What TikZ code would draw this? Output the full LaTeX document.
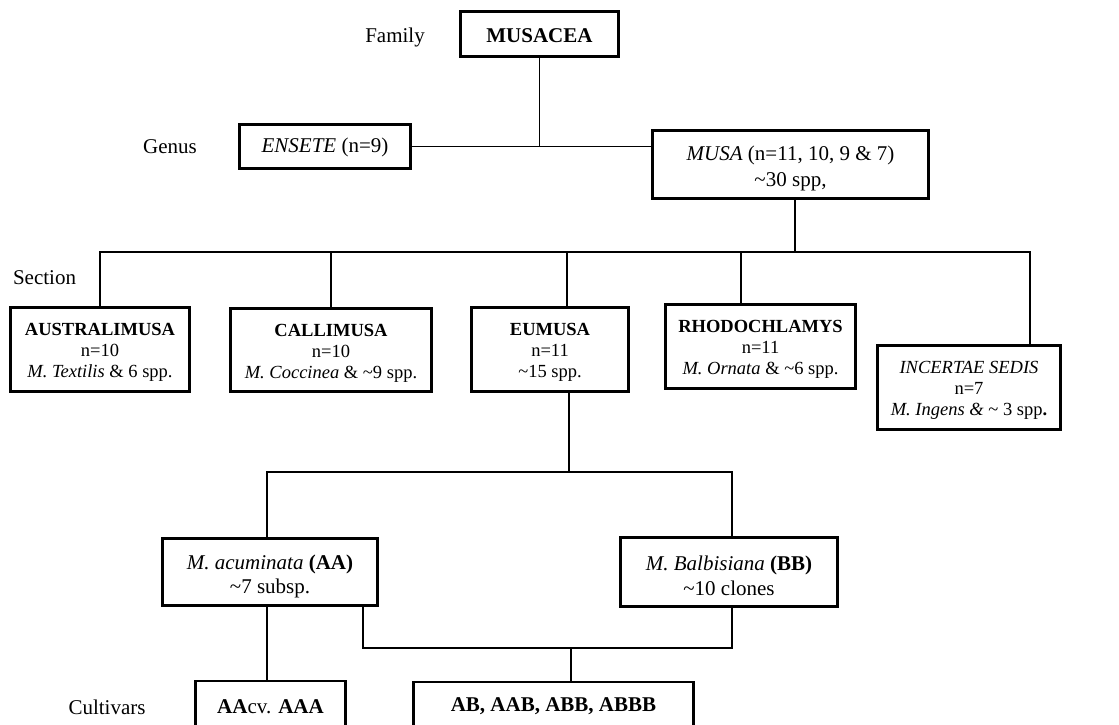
\documentclass[tikz,border=0pt]{standalone}
\usepackage{fontspec}
\setmainfont{Liberation Serif}
\begin{document}
\begin{tikzpicture}[x=1pt,y=-1pt,
  box/.style={draw, line width=2.6pt, rectangle, inner sep=0pt},
  txt/.style={inner sep=0pt, align=center, font=\fontsize{21}{25}\selectfont},
  sectxt/.style={txt, font=\fontsize{18.5}{21}\selectfont},
  conn/.style={line width=1.6pt},
  lbl/.style={inner sep=0pt, font=\fontsize{21}{25}\selectfont}]
\useasboundingbox (0,0) rectangle (1119,724);
\clip (0,0) rectangle (1119,724);
\fill[white] (0,0) rectangle (1119,724);

% level labels
\node[lbl] (family) at (395,37) {Family};
\node[lbl] (genus) at (170,147) {Genus};
\node[lbl] (section) at (44.5,278) {Section};
\node[lbl] (cultivars) at (107,707) {Cultivars};

% boxes
\node[box, minimum width=158pt, minimum height=45pt] (musacea) at (539.5,34) {};
\node[txt] (musaceaT) at ([yshift=-2pt]musacea.center) {\textbf{MUSACEA}};
\node[box, minimum width=171pt, minimum height=44pt] (ensete) at (325,146.5) {};
\node[txt] (enseteT) at ([yshift=-1pt]ensete.center) {\textit{ENSETE} (n=9)};
\node[box, minimum width=276pt, minimum height=68pt] (musa) at (790.5,164.5) {};
\node[txt, font=\fontsize{21}{26.5}\selectfont] (musaT) at ([yshift=-4pt]musa.center) {\textit{MUSA} (n=11, 10, 9 \& 7)\\\textasciitilde30 spp,};

\node[box, minimum width=179pt, minimum height=84pt] (australimusa) at (100,349.5) {};
\node[sectxt] (australimusaT) at ([yshift=-3pt]australimusa.center) {\textbf{AUSTRALIMUSA}\\n=10\\\textit{M. Textilis} \& 6 spp.};
\node[box, minimum width=201pt, minimum height=83pt] (callimusa) at (331,350) {};
\node[sectxt] (callimusaT) at ([yshift=-3pt]callimusa.center) {\textbf{CALLIMUSA}\\n=10\\\textit{M. Coccinea} \& \textasciitilde9 spp.};
\node[box, minimum width=157pt, minimum height=84pt] (eumusa) at (550,349.5) {};
\node[sectxt] (eumusaT) at ([yshift=-3pt]eumusa.center) {\textbf{EUMUSA}\\n=11\\\textasciitilde15 spp.};
\node[box, minimum width=190pt, minimum height=84pt] (rhodo) at (760.5,346.5) {};
\node[sectxt] (rhodoT) at ([yshift=-3pt]rhodo.center) {\textbf{RHODOCHLAMYS}\\n=11\\\textit{M. Ornata} \& \textasciitilde6 spp.};
\node[box, minimum width=183pt, minimum height=84pt] (incertae) at (969,387.5) {};
\node[sectxt] (incertaeT) at ([yshift=-3pt]incertae.center) {\textit{INCERTAE SEDIS}\\n=7\\\textit{M. Ingens \&} \textasciitilde{} 3 spp\textbf{.}};

\node[box, minimum width=215pt, minimum height=67pt] (acuminata) at (270,572) {};
\node[txt, font=\fontsize{21}{24.5}\selectfont] (acuminataT) at ([yshift=-4.5pt]acuminata.center) {\textit{M. acuminata} \textbf{(AA)}\\\textasciitilde7 subsp.};
\node[box, minimum width=217pt, minimum height=69pt] (balbisiana) at (729,572) {};
\node[txt, font=\fontsize{21}{24.5}\selectfont] (balbisianaT) at ([yshift=-4pt]balbisiana.center) {\textit{M. Balbisiana} \textbf{(BB)}\\\textasciitilde10 clones};

\node[box, minimum width=150pt, minimum height=50pt] (aacv) at (270.5,706) {};
\node[txt] (aacvT) at ([yshift=-0.5pt]aacv.center) {\textbf{AA}cv. \textbf{AAA}};
\node[box, minimum width=280pt, minimum height=50pt] (ab) at (553.5,707) {};
\node[txt] (abT) at ([yshift=1pt]ab.center) {\textbf{AB, AAB, ABB, ABBB}};

% helper coordinates
\coordinate (bar) at (0,252);
\coordinate (bar2) at (0,472);
\coordinate (bar3) at (0,648);
\coordinate (mD) at ([xshift=4.5pt]musa.south);
\coordinate (iD) at ([xshift=61pt]incertae.north);
\coordinate (eD) at ([xshift=17pt]eumusa.north);
\coordinate (rD) at ([xshift=-19.5pt]rhodo.north);
\coordinate (eB) at ([xshift=19pt]eumusa.south);
\coordinate (aT) at ([xshift=-3pt]acuminata.north);
\coordinate (bT) at ([xshift=3pt]balbisiana.north);
\coordinate (aB) at ([xshift=93pt]acuminata.south);
\coordinate (abD) at ([xshift=17.5pt]ab.north);

% connectors
\draw[conn] (musacea.south) -- (musacea.south |- ensete.east);
\draw[conn] (ensete.east) -- (ensete.east -| musa.west);
\draw[conn] (mD) -- (mD |- bar);
\draw[conn] (australimusa.north) -- (australimusa.north |- bar) -- (iD |- bar) -- (iD);
\draw[conn] (callimusa.north) -- (callimusa.north |- bar);
\draw[conn] (eD) -- (eD |- bar);
\draw[conn] (rD) -- (rD |- bar);
\draw[conn] (eB) -- (eB |- bar2);
\draw[conn] (aT) -- (aT |- bar2) -- (bT |- bar2) -- (bT);
\draw[conn] (aT |- acuminata.south) -- (aT |- aacv.north);
\draw[conn] (aB) -- (aB |- bar3) -- (bT |- bar3) -- (bT |- balbisiana.south);
\draw[conn] (abD |- bar3) -- (abD);
\end{tikzpicture}
\end{document}
